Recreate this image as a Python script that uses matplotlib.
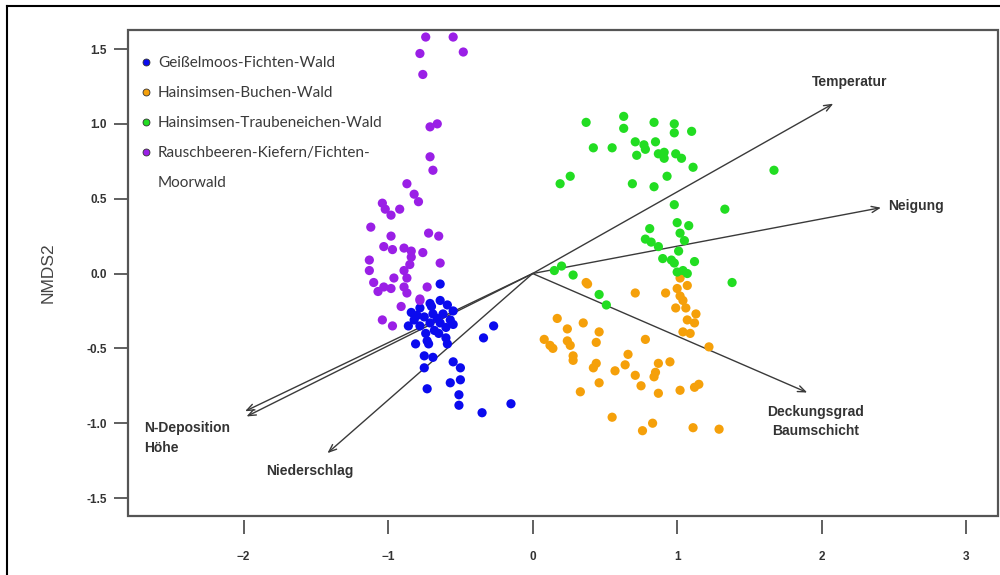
import matplotlib
matplotlib.use('Agg')
import matplotlib.pyplot as plt
from matplotlib.lines import Line2D
from matplotlib.patches import Rectangle
import numpy as np

# site scores
geissel_x = [-0.64, -0.84, -0.78, -0.71, -0.64, -0.59, -0.55, -0.82, -0.75, -0.69,
             -0.62, -0.78, -0.71, -0.64, -0.57, -0.55, -0.27, -0.34, -0.81, -0.73,
             -0.72, -0.65, -0.60, -0.59, -0.75, -0.69, -0.75, -0.55, -0.50, -0.50,
             -0.57, -0.73, -0.51, -0.51, -0.35, -0.15, -0.70, -0.66, -0.80, -0.60,
             -0.68, -0.86, -0.74]
geissel_y = [-0.07, -0.26, -0.23, -0.20, -0.18, -0.21, -0.25, -0.31, -0.29, -0.27,
             -0.27, -0.35, -0.33, -0.33, -0.31, -0.34, -0.35, -0.43, -0.47, -0.45,
             -0.47, -0.40, -0.43, -0.47, -0.55, -0.56, -0.63, -0.59, -0.63, -0.71,
             -0.73, -0.77, -0.81, -0.88, -0.93, -0.87, -0.22, -0.30, -0.28, -0.36,
             -0.38, -0.35, -0.40]

buchen_x = [0.37, 0.38, 0.71, 0.92, 1.02, 1.07, 1.00, 1.02, 1.04, 0.99, 1.06, 1.13,
            1.07, 1.12, 1.04, 1.09, 1.22, 0.17, 0.24, 0.35, 0.46, 0.08, 0.12, 0.14,
            0.24, 0.26, 0.44, 0.78, 0.28, 0.28, 0.66, 0.44, 0.42, 0.57, 0.64, 0.87,
            0.95, 0.85, 0.84, 0.71, 0.46, 0.75, 0.33, 0.87, 1.02, 1.12, 1.15, 0.55,
            0.83, 0.76, 1.11, 1.29]
buchen_y = [-0.06, -0.07, -0.13, -0.13, -0.03, -0.08, -0.10, -0.15, -0.18, -0.23,
            -0.23, -0.27, -0.31, -0.33, -0.39, -0.40, -0.49, -0.30, -0.37, -0.33,
            -0.39, -0.44, -0.48, -0.50, -0.45, -0.48, -0.46, -0.44, -0.55, -0.58,
            -0.54, -0.60, -0.63, -0.65, -0.61, -0.60, -0.59, -0.66, -0.69, -0.68,
            -0.73, -0.75, -0.79, -0.80, -0.78, -0.76, -0.74, -0.96, -1.00, -1.05,
            -1.03, -1.04]

trauben_x = [0.37, 0.63, 0.63, 0.84, 0.98, 0.98, 1.10, 0.42, 0.55, 0.71, 0.77, 0.72,
             0.78, 0.85, 0.87, 0.91, 0.91, 0.99, 1.03, 1.11, 0.26, 0.19, 0.69, 0.84,
             0.93, 1.67, 0.98, 1.33, 1.00, 1.08, 0.81, 1.02, 1.05, 0.78, 0.82, 0.87,
             1.01, 0.90, 0.96, 0.98, 1.12, 1.00, 1.04, 1.07, 0.15, 0.20, 0.28, 1.38,
             0.46, 0.51]
trauben_y = [1.01, 1.05, 0.97, 1.01, 1.00, 0.94, 0.95, 0.84, 0.84, 0.88, 0.86, 0.79,
             0.83, 0.88, 0.80, 0.81, 0.77, 0.80, 0.77, 0.71, 0.65, 0.60, 0.60, 0.58,
             0.65, 0.69, 0.46, 0.43, 0.34, 0.32, 0.30, 0.27, 0.22, 0.23, 0.21, 0.18,
             0.15, 0.10, 0.09, 0.07, 0.08, 0.01, 0.02, 0.00, 0.02, 0.05, -0.01, -0.06,
             -0.14, -0.21]

moor_x = [-0.74, -0.55, -0.78, -0.48, -0.76, -0.71, -0.66, -0.71, -0.69, -0.87,
          -0.82, -0.79, -1.04, -1.02, -0.98, -0.92, -1.12, -0.98, -0.72, -0.65,
          -1.03, -0.97, -0.89, -0.84, -0.76, -0.84, -1.13, -0.85, -0.64, -1.13,
          -0.89, -0.96, -0.87, -1.10, -1.03, -1.07, -0.98, -0.89, -0.87, -0.73,
          -0.91, -0.78, -1.04, -0.97, -0.78]
moor_y = [1.58, 1.58, 1.47, 1.48, 1.33, 0.98, 1.00, 0.78, 0.69, 0.60, 0.53, 0.48,
          0.47, 0.43, 0.39, 0.43, 0.31, 0.25, 0.27, 0.25, 0.18, 0.16, 0.17, 0.15,
          0.14, 0.11, 0.09, 0.06, 0.07, 0.02, 0.02, -0.03, -0.03, -0.06, -0.09,
          -0.12, -0.10, -0.09, -0.13, -0.09, -0.22, -0.18, -0.31, -0.35, -0.17]

# environmental fitted vectors
env_names = ['Temperatur', 'Neigung', 'Deckungsgrad', 'N-Deposition', 'Höhe', 'Niederschlag']
env_x = [2.08, 2.41, 1.90, -1.99, -1.98, -1.42]
env_y = [1.135, 0.44, -0.795, -0.92, -0.955, -1.20]

groups = ['Geißelmoos-Fichten-Wald', 'Hainsimsen-Buchen-Wald',
          'Hainsimsen-Traubeneichen-Wald', 'Rauschbeeren-Kiefern/Fichten-']
groups_cont = 'Moorwald'
colors = ['#0a0aee', '#f5a00a', '#22dd22', '#9a1fe6']

fig = plt.figure(figsize=(10, 5.75), dpi=100)
ax = fig.add_axes([0.128, 0.1026, 0.870, 0.8452])

data = [(geissel_x, geissel_y), (buchen_x, buchen_y),
        (trauben_x, trauben_y), (moor_x, moor_y)]
for (xs, ys), c in zip(data, colors):
    ax.scatter(xs, ys, s=44, color=c, edgecolors='none', zorder=3)

arrow_kw = dict(arrowstyle='->,head_length=0.55,head_width=0.22',
                color='#3a3a3a', lw=1.0, shrinkA=0, shrinkB=0)
for x, y in zip(env_x, env_y):
    ax.annotate('', xy=(x, y), xytext=(0, 0), arrowprops=arrow_kw, zorder=2)

lab_kw = dict(fontsize=10, fontweight='bold', color='#333333', family='Liberation Sans')
ax.text(2.19, 1.28, 'Temperatur', ha='center', va='center', **lab_kw)
ax.text(2.65, 0.45, 'Neigung', ha='center', va='center', **lab_kw)
ax.text(1.96, -0.99, 'Deckungsgrad\nBaumschicht', ha='center', va='center',
        linespacing=1.5, **lab_kw)
ax.text(-2.69, -1.10, 'N-Deposition\nHöhe', ha='left', va='center',
        linespacing=1.5, **lab_kw)
ax.text(-1.54, -1.32, 'Niederschlag', ha='center', va='center', **lab_kw)

handles = [Line2D([], [], ls='none', marker='o', markersize=5, mfc=c,
                  mec='#333333', mew=0.6) for c in colors]
handles.append(Line2D([], [], ls='none', marker=''))
leg = ax.legend(handles, groups + [groups_cont], loc='upper left',
                bbox_to_anchor=(0.0, 0.975),
                frameon=False, handlelength=0.6, handletextpad=0.45,
                labelspacing=1.05, borderaxespad=0.5,
                prop={'family': 'Lato', 'size': 11})
for t in leg.get_texts():
    t.set_color('#3a3a3a')

ax.set_xlim(-2.80, 3.22)
ax.set_ylim(-1.62, 1.627)
ax.set_xticks([-2, -1, 0, 1, 2, 3])
ax.set_yticks([-1.5, -1.0, -0.5, 0.0, 0.5, 1.0, 1.5])
ax.set_yticklabels(['-1.5', '-1.0', '-0.5', '0.0', '0.5', '1.0', '1.5'])

for s in ax.spines.values():
    s.set_visible(False)
ax.spines['bottom'].set_position(('outward', 3))
ax.add_patch(Rectangle((0, 0), 1, 1, transform=ax.transAxes, fill=False,
                       ec='#555555', lw=1.6, clip_on=False, zorder=5))

ax.tick_params(axis='x', direction='out', length=10, width=1.2, color='#444444',
               pad=12, labelsize=8.5, labelcolor='#333333')
ax.tick_params(axis='y', direction='out', length=10, width=1.2, color='#444444',
               pad=5, labelsize=8.5, labelcolor='#333333')
for lbl in ax.get_xticklabels() + ax.get_yticklabels():
    lbl.set_fontweight('bold')
    lbl.set_family('Liberation Sans')

ax.set_ylabel('NMDS2', fontsize=12.5, color='#444444', family='Liberation Sans',
              labelpad=22)

# outer screenshot frame
fig.add_artist(Line2D([0.007, 1.0], [0.9895, 0.9895], transform=fig.transFigure,
                      color='black', lw=1.5))
fig.add_artist(Line2D([0.007, 0.007], [0.0, 0.9895], transform=fig.transFigure,
                      color='black', lw=1.5))

fig.savefig('out.png', dpi=100, facecolor='white')
